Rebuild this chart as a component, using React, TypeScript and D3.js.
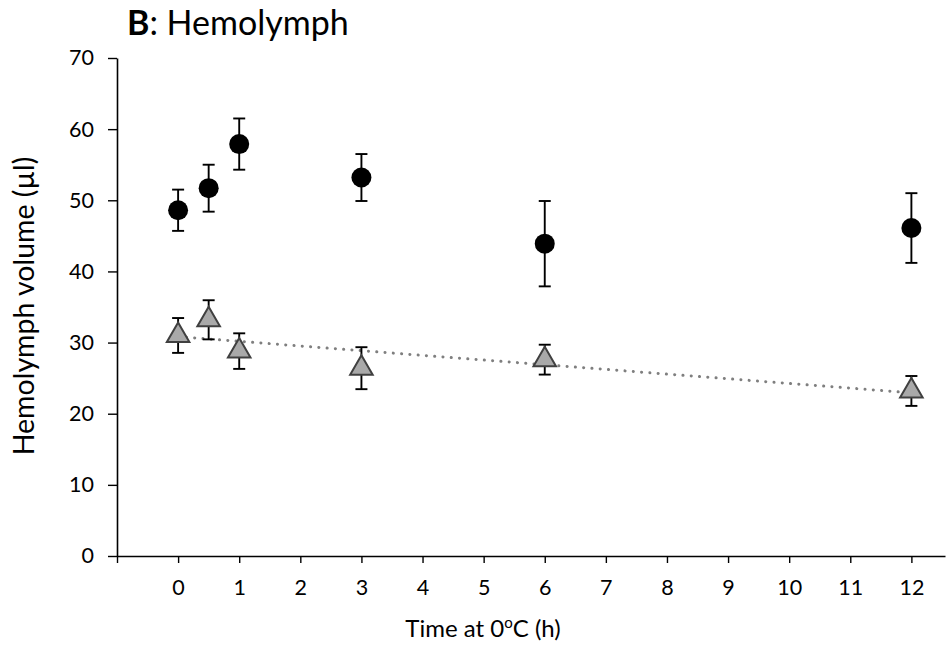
import React, { useEffect, useRef } from 'react';
import * as d3 from 'd3';

// Hours at 0°C
const hours = [0, 0.5, 1, 3, 6, 12];
// upper series (black circles)
const circleMeans = [48.6, 51.7, 57.9, 53.2, 43.9, 46.1];
const circleErrors = [2.9, 3.3, 3.6, 3.3, 6.0, 4.9];
// lower series (grey triangles)
const triangleMeans = [31.0, 33.2, 28.8, 26.4, 27.6, 23.2];
const triangleErrors = [2.45, 2.75, 2.5, 2.95, 2.1, 2.1];

const xTicks = [-1, 0, 1, 2, 3, 4, 5, 6, 7, 8, 9, 10, 11, 12];
const yTicks = [0, 10, 20, 30, 40, 50, 60, 70];

const width = 948;
const height = 656;
const font = 'Lato, "Open Sans", sans-serif';

export default function App() {
  const gx = useRef<SVGGElement | null>(null);
  const gy = useRef<SVGGElement | null>(null);

  const x = d3.scaleLinear().domain([-1, 12.55]).range([117, 945]);
  const y = d3.scaleLinear().domain([0, 70]).range([556, 58]);

  // linear trend of the triangle series (least squares)
  const mx = d3.mean(hours) as number;
  const my = d3.mean(triangleMeans) as number;
  const sxy = d3.sum(hours, (h, i) => (h - mx) * (triangleMeans[i] - my));
  const sxx = d3.sum(hours, h => (h - mx) ** 2);
  const slope = sxy / sxx;
  const intercept = my - slope * mx;
  const trendEnds = d3.extent(hours) as [number, number];
  const trend = d3.line<number>()
    .x(h => x(h))
    .y(h => y(intercept + slope * h));

  useEffect(() => {
    if (gx.current) {
      const g = d3.select(gx.current);
      g.call(
        d3.axisBottom(x)
          .tickValues(xTicks)
          .tickSize(7)
          .tickSizeOuter(0)
          .tickPadding(17)
          .tickFormat(d => (+d < 0 ? '' : String(d)))
      );
      g.select('.domain').attr('stroke-width', 1.6);
      g.selectAll('.tick line').attr('stroke-width', 1.4);
      g.selectAll('text').attr('font-size', 21.5).attr('font-family', font).attr('fill', '#000');
    }
    if (gy.current) {
      const g = d3.select(gy.current);
      g.call(
        d3.axisLeft(y)
          .tickValues(yTicks)
          .tickSize(9)
          .tickSizeOuter(0)
          .tickPadding(14)
      );
      g.select('.domain').attr('stroke-width', 1.6);
      g.selectAll('.tick line').attr('stroke-width', 1.4);
      g.selectAll('text').attr('font-size', 21.5).attr('font-family', font).attr('fill', '#000');
    }
  }, []);

  const tri = d3.symbol(d3.symbolTriangle, 220)();

  return (
    <svg width={width} height={height} style={{ position: 'absolute', left: 0, top: 0, background: '#fff' }}>
      <text x={127} y={35} fontFamily={font} fontSize={34} fill="#000">
        <tspan fontWeight="bold">B</tspan>: Hemolymph
      </text>

      <g ref={gx} transform={`translate(0,${y(0)})`} />
      <g ref={gy} transform={`translate(${x(-1)},0)`} />

      <text x={483} y={637} textAnchor="middle" fontFamily={font} fontSize={24} fill="#000">
        Time at 0<tspan fontSize={15} dy={-9}>o</tspan><tspan dy={9}>C (h)</tspan>
      </text>
      <text transform="translate(34,306) rotate(-90)" textAnchor="middle" fontFamily={font} fontSize={28.5} fill="#000">
        Hemolymph volume (µl)
      </text>

      {/* trend line for triangles */}
      <path d={trend(trendEnds) || ''} fill="none" stroke="#7f7f7f" strokeWidth={3}
        strokeLinecap="round" strokeDasharray="0.1 8.2" />

      {/* circle series */}
      <g stroke="#000" strokeWidth={1.9}>
        {hours.map((h, i) => (
          <g key={i}>
            <line x1={x(h)} x2={x(h)} y1={y(circleMeans[i] - circleErrors[i])} y2={y(circleMeans[i] + circleErrors[i])} />
            <line x1={x(h) - 6} x2={x(h) + 6} y1={y(circleMeans[i] + circleErrors[i])} y2={y(circleMeans[i] + circleErrors[i])} />
            <line x1={x(h) - 6} x2={x(h) + 6} y1={y(circleMeans[i] - circleErrors[i])} y2={y(circleMeans[i] - circleErrors[i])} />
          </g>
        ))}
      </g>
      <g fill="#000">
        {hours.map((h, i) => (
          <circle key={i} cx={x(h)} cy={y(circleMeans[i])} r={10} />
        ))}
      </g>

      {/* triangle series */}
      <g stroke="#000" strokeWidth={1.9}>
        {hours.map((h, i) => (
          <g key={i}>
            <line x1={x(h)} x2={x(h)} y1={y(triangleMeans[i] - triangleErrors[i])} y2={y(triangleMeans[i] + triangleErrors[i])} />
            <line x1={x(h) - 6} x2={x(h) + 6} y1={y(triangleMeans[i] + triangleErrors[i])} y2={y(triangleMeans[i] + triangleErrors[i])} />
            <line x1={x(h) - 6} x2={x(h) + 6} y1={y(triangleMeans[i] - triangleErrors[i])} y2={y(triangleMeans[i] - triangleErrors[i])} />
          </g>
        ))}
      </g>
      <g fill="#a9a9a9" stroke="#404040" strokeWidth={2}>
        {hours.map((h, i) => (
          <path key={i} d={tri || ''} transform={`translate(${x(h)},${y(triangleMeans[i])})`} />
        ))}
      </g>
    </svg>
  );
}
